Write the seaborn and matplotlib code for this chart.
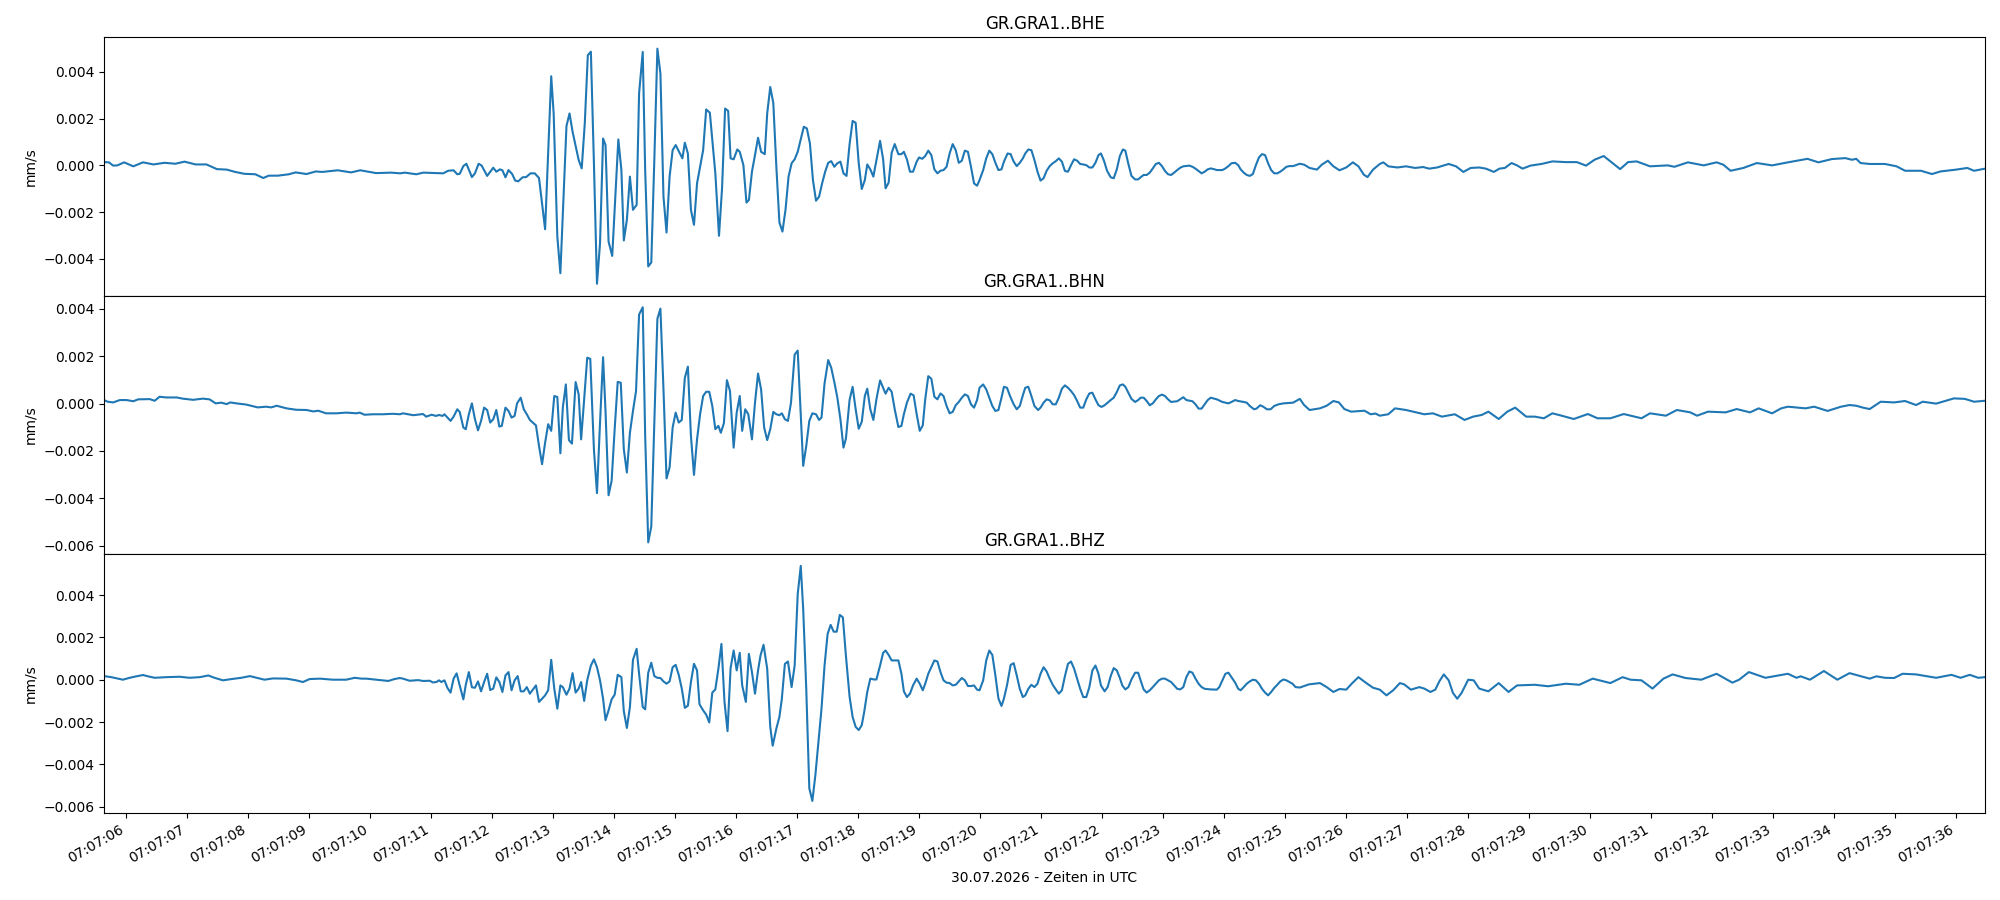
import numpy as np
import pandas as pd
import matplotlib
matplotlib.use("Agg")
import matplotlib.pyplot as plt
import matplotlib.dates as mdates
import seaborn as sns

# recording start (minute) and channel names
start = pd.Timestamp("2026-07-30 07:07:00")
channels = ["GR.GRA1..BHE", "GR.GRA1..BHN", "GR.GRA1..BHZ"]
date_label = "30.07.2026 - Zeiten in UTC"

# trace vertices: (seconds after 07:07:00, velocity in 1e-3 mm/s)
bhe = [
    (5.64, 0.14), (5.72, 0.13), (5.79, -0.01), (5.86, 0.00), (5.97, 0.13), (6.12, -0.04), (6.28, 0.13),
    (6.45, 0.04), (6.63, 0.11), (6.81, 0.07), (6.96, 0.16), (7.14, 0.04), (7.32, 0.04), (7.49, -0.16),
    (7.65, -0.18), (7.79, -0.28), (7.94, -0.36), (8.12, -0.38), (8.25, -0.54), (8.34, -0.44), (8.49, -0.44),
    (8.67, -0.38), (8.78, -0.30), (8.96, -0.37), (9.11, -0.26), (9.22, -0.28), (9.47, -0.21), (9.69, -0.30),
    (9.84, -0.21), (10.10, -0.33), (10.35, -0.31),
    (10.49, -0.34), (10.57, -0.31), (10.76, -0.38), (10.87, -0.31), (11.20, -0.34), (11.28, -0.23),
    (11.37, -0.21), (11.43, -0.38), (11.47, -0.36), (11.53, -0.03), (11.58, 0.07), (11.67, -0.50),
    (11.72, -0.34), (11.78, 0.07), (11.83, -0.01), (11.92, -0.45), (12.02, -0.10), (12.07, -0.27),
    (12.13, -0.17), (12.17, -0.21), (12.22, -0.51), (12.27, -0.20), (12.33, -0.37), (12.38, -0.65),
    (12.43, -0.68), (12.50, -0.51), (12.56, -0.50), (12.63, -0.34), (12.70, -0.34), (12.77, -0.54),
    (12.87, -2.73), (12.97, 3.81), (13.01, 2.22), (13.07, -3.04), (13.12, -4.61), (13.22, 1.68),
    (13.27, 2.22), (13.32, 1.44), (13.42, 0.23), (13.47, -0.13), (13.52, 1.79), (13.57, 4.71),
    (13.62, 4.86), (13.67, 0.09), (13.72, -5.06), (13.77, -3.33), (13.82, 1.15), (13.86, 0.87),
    (13.91, -3.26), (13.97, -3.87), (14.07, 1.11), (14.12, -0.20), (14.16, -3.21), (14.21, -2.33),
    (14.26, -0.48), (14.31, -1.90), (14.37, -1.69), (14.41, 3.07), (14.47, 4.85), (14.51, -0.20),
    (14.56, -4.32), (14.61, -4.15), (14.66, 0.23), (14.71, 4.99), (14.76, 3.92), (14.81, -1.34),
    (14.86, -2.87), (14.91, -0.48), (14.96, 0.65), (15.01, 0.87), (15.12, 0.30), (15.16, 0.97),
    (15.21, 0.51), (15.26, -1.90), (15.31, -2.54), (15.36, -0.77), (15.46, 0.65), (15.51, 2.39),
    (15.57, 2.25), (15.66, -0.34), (15.72, -3.01), (15.77, -0.98), (15.82, 2.43), (15.87, 2.33),
    (15.91, 0.30), (15.96, 0.26), (16.02, 0.68), (16.06, 0.58), (16.12, 0.01), (16.17, -1.59),
    (16.21, -1.48), (16.26, -0.27), (16.31, 0.44), (16.36, 1.18), (16.41, 0.58), (16.47, 0.48),
    (16.51, 2.22), (16.56, 3.35), (16.61, 2.67), (16.66, -0.06), (16.71, -2.44), (16.76, -2.83),
    (16.81, -1.90), (16.86, -0.48), (16.91, 0.09), (16.96, 0.26), (17.01, 0.58), (17.11, 1.65),
    (17.16, 1.58), (17.21, 0.94), (17.26, -0.63), (17.31, -1.51), (17.36, -1.34), (17.41, -0.77),
    (17.46, -0.27), (17.51, 0.11), (17.56, 0.18), (17.61, -0.06), (17.66, 0.09), (17.71, 0.16),
    (17.76, -0.34), (17.81, -0.45), (17.86, 0.90),
    (17.91, 1.90), (17.96, 1.82), (18.01, 0.09), (18.06, -1.01), (18.11, -0.63), (18.15, 0.04),
    (18.20, -0.17), (18.25, -0.48), (18.36, 1.05), (18.41, 0.26), (18.45, -0.98), (18.50, -0.74),
    (18.55, 0.54), (18.60, 0.91), (18.66, 0.48), (18.71, 0.48), (18.75, 0.58), (18.80, 0.26),
    (18.85, -0.27), (18.90, -0.27), (18.96, 0.16), (19.00, 0.34), (19.05, 0.28), (19.10, 0.40),
    (19.15, 0.63), (19.20, 0.44), (19.25, -0.17), (19.30, -0.34), (19.35, -0.23), (19.40, -0.20),
    (19.45, -0.06), (19.50, 0.51), (19.55, 0.91), (19.60, 0.65), (19.65, 0.11), (19.70, 0.20),
    (19.75, 0.63), (19.80, 0.58), (19.85, -0.06), (19.90, -0.77), (19.95, -0.87), (19.99, -0.63),
    (20.05, -0.20), (20.10, 0.30), (20.15, 0.63), (20.20, 0.48), (20.25, 0.11), (20.30, -0.20),
    (20.35, -0.17), (20.39, 0.16), (20.45, 0.51), (20.50, 0.48), (20.55, 0.16), (20.60, -0.03),
    (20.65, 0.11), (20.70, 0.30), (20.74, 0.51), (20.79, 0.68), (20.84, 0.65), (20.89, 0.23),
    (20.94, -0.27), (20.99, -0.65), (21.04, -0.55), (21.09, -0.23), (21.14, -0.03), (21.19, 0.09),
    (21.24, 0.18), (21.29, 0.30), (21.34, 0.16), (21.39, -0.24), (21.44, -0.27), (21.49, 0.01),
    (21.54, 0.26), (21.59, 0.20), (21.64, 0.06), (21.69, 0.04), (21.74, 0.01), (21.79, -0.09),
    (21.84, -0.09), (21.89, 0.11), (21.94, 0.44), (21.98, 0.51), (22.03, 0.20), (22.08, -0.23),
    (22.14, -0.51), (22.19, -0.55), (22.24, -0.17), (22.29, 0.40), (22.34, 0.68), (22.38, 0.63),
    (22.43, 0.06), (22.48, -0.45), (22.54, -0.60), (22.59, -0.60), (22.63, -0.51), (22.68, -0.41),
    (22.73, -0.41), (22.78, -0.31), (22.83, -0.13), (22.88, 0.06), (22.93, 0.11), (22.98, -0.03),
    (23.03, -0.24), (23.08, -0.38), (23.13, -0.41), (23.18, -0.31), (23.23, -0.20), (23.28, -0.10),
    (23.33, -0.04), (23.43, -0.01), (23.48, -0.06), (23.53, -0.14), (23.58, -0.24), (23.63, -0.34),
    (23.68, -0.27), (23.73, -0.17), (23.78, -0.13), (23.83, -0.16), (23.88, -0.20), (23.97, -0.20),
    (24.02, -0.13), (24.07, -0.03), (24.12, 0.09), (24.18, 0.11), (24.23, 0.01), (24.27, -0.17),
    (24.32, -0.31), (24.37, -0.41), (24.42, -0.45), (24.47, -0.37), (24.52, 0.01), (24.57, 0.34),
    (24.62, 0.48), (24.67, 0.44), (24.72, 0.09), (24.77, -0.20), (24.82, -0.34), (24.87, -0.34),
    (24.92, -0.27), (24.97, -0.17), (25.02, -0.06), (25.07, -0.03), (25.13, -0.03),
    (25.24, 0.07), (25.31, 0.03), (25.40, -0.11), (25.52, -0.18), (25.60, 0.03), (25.70, 0.20),
    (25.79, -0.04), (25.89, -0.21), (26.00, -0.09), (26.11, 0.13), (26.20, -0.04), (26.29, -0.40),
    (26.35, -0.50), (26.44, -0.18), (26.55, 0.06), (26.61, 0.13), (26.69, -0.04), (26.84, -0.09),
    (26.98, -0.04), (27.13, -0.11), (27.26, -0.07), (27.36, -0.14), (27.49, -0.09), (27.68, 0.06),
    (27.80, -0.04), (27.92, -0.28), (28.04, -0.11), (28.18, -0.09), (28.29, -0.14), (28.42, -0.28),
    (28.51, -0.14), (28.60, -0.11), (28.71, 0.10), (28.80, 0.00), (28.89, -0.14), (29.02, -0.01),
    (29.20, 0.06), (29.38, 0.17), (29.60, 0.14), (29.78, 0.14), (29.93, -0.01), (30.07, 0.24),
    (30.22, 0.40), (30.33, 0.17), (30.49, -0.16), (30.62, 0.14), (30.76, 0.17), (30.98, -0.04),
    (31.27, 0.00), (31.38, -0.06), (31.60, 0.13), (31.86, 0.00), (32.07, 0.13), (32.18, 0.03),
    (32.30, -0.23), (32.51, -0.11), (32.73, 0.10), (32.98, 0.00), (33.24, 0.13), (33.56, 0.28),
    (33.74, 0.13), (33.96, 0.27), (34.18, 0.31), (34.29, 0.24), (34.36, 0.28), (34.43, 0.10),
    (34.58, 0.06), (34.83, 0.06), (35.02, -0.04), (35.16, -0.23), (35.42, -0.23), (35.60, -0.37),
    (35.74, -0.26), (36.00, -0.18), (36.18, -0.11), (36.29, -0.23), (36.47, -0.14),
]

bhn = [
    (5.64, 0.15), (5.70, 0.08), (5.79, 0.05), (5.90, 0.15), (6.01, 0.15), (6.12, 0.10), (6.20, 0.18),
    (6.39, 0.19), (6.47, 0.12), (6.55, 0.29), (6.66, 0.26), (6.83, 0.26), (6.93, 0.21), (7.10, 0.16),
    (7.26, 0.21), (7.37, 0.18), (7.47, 0.01), (7.56, 0.04), (7.65, -0.02), (7.71, 0.05), (7.81, 0.01),
    (7.97, -0.04), (8.16, -0.16), (8.30, -0.13), (8.38, -0.16), (8.47, -0.09), (8.63, -0.20),
    (8.79, -0.26), (8.96, -0.27), (9.07, -0.33), (9.15, -0.30), (9.28, -0.41), (9.45, -0.41),
    (9.61, -0.38), (9.78, -0.41), (9.83, -0.38), (9.91, -0.47), (10.05, -0.45), (10.21, -0.45),
    (10.38, -0.43),
    (10.49, -0.45), (10.54, -0.41), (10.71, -0.49), (10.87, -0.44), (10.92, -0.55), (11.01, -0.47),
    (11.08, -0.52), (11.13, -0.48), (11.19, -0.52), (11.22, -0.45), (11.32, -0.73), (11.37, -0.55),
    (11.43, -0.24), (11.47, -0.35), (11.53, -1.01), (11.57, -1.08), (11.62, -0.45), (11.67, 0.01),
    (11.72, -0.66), (11.77, -1.13), (11.82, -0.73), (11.87, -0.17), (11.92, -0.27), (11.97, -0.80),
    (12.02, -0.66), (12.07, -0.27), (12.12, -0.97), (12.16, -0.94), (12.22, -0.17), (12.27, -0.31),
    (12.32, -0.59), (12.37, -0.52), (12.41, 0.01), (12.47, 0.25), (12.52, -0.24), (12.57, -0.45),
    (12.62, -0.69), (12.72, -0.92), (12.77, -1.79), (12.82, -2.56), (12.87, -1.65), (12.92, -0.87),
    (12.97, -1.15), (13.02, 0.32), (13.07, 0.28), (13.12, -2.10), (13.16, -0.17), (13.21, 0.81),
    (13.26, -1.54), (13.31, -1.69), (13.37, 0.91), (13.42, 0.39), (13.46, -1.51), (13.51, 0.18),
    (13.56, 1.94), (13.61, 1.89), (13.67, -1.93), (13.72, -3.78), (13.77, -0.80), (13.82, 1.96),
    (13.86, -0.31), (13.91, -3.87), (13.96, -3.26), (14.01, -1.08), (14.06, 0.92), (14.11, 0.88),
    (14.16, -1.93), (14.21, -2.91), (14.26, -1.23), (14.31, -0.31), (14.36, 0.53), (14.41, 3.76),
    (14.47, 4.07), (14.51, -1.37), (14.56, -5.86), (14.61, -5.19), (14.66, -0.80), (14.71, 3.58),
    (14.76, 4.01), (14.81, 0.60), (14.86, -3.16), (14.91, -2.70), (14.96, -1.01), (15.01, -0.38),
    (15.06, -0.80), (15.11, -0.69), (15.16, 1.09), (15.21, 1.56), (15.26, -1.37), (15.31, -3.01),
    (15.36, -1.51), (15.41, -0.45), (15.46, 0.32), (15.51, 0.50), (15.56, 0.50), (15.61, -0.10),
    (15.66, -1.08), (15.71, -0.94), (15.75, -1.23), (15.80, -0.83), (15.85, 0.99), (15.90, 0.53),
    (15.96, -1.86), (16.01, -0.38), (16.06, 0.32), (16.10, -1.15), (16.15, -0.24), (16.20, -0.45),
    (16.26, -1.51), (16.31, 0.04), (16.36, 1.27), (16.41, 0.60), (16.46, -1.01), (16.51, -1.54),
    (16.56, -1.08), (16.61, -0.35), (16.66, -0.45), (16.71, -0.49), (16.75, -0.41), (16.80, -0.66),
    (16.85, -0.73), (16.90, 0.04), (16.96, 2.07), (17.01, 2.24), (17.06, -0.52), (17.10, -2.63),
    (17.15, -1.79), (17.20, -0.73), (17.25, -0.41), (17.31, -0.45), (17.36, -0.69), (17.40, -0.59),
    (17.45, 0.85), (17.51, 1.84), (17.56, 1.51), (17.61, 0.91), (17.66, 0.25), (17.71, -0.66),
    (17.76, -1.86), (17.80, -1.48), (17.86, 0.15),
    (17.91, 0.71), (17.96, -0.24), (18.01, -1.06), (18.06, -0.77), (18.11, 0.32), (18.15, 0.63),
    (18.20, -0.24), (18.25, -0.69), (18.30, 0.18), (18.36, 0.98), (18.41, 0.67), (18.45, 0.42),
    (18.50, 0.67), (18.55, 0.50), (18.60, -0.24), (18.66, -0.99), (18.71, -0.94), (18.75, -0.45),
    (18.80, 0.04), (18.86, 0.42), (18.91, 0.35), (18.96, -0.45), (19.01, -1.15), (19.06, -0.92),
    (19.10, 0.18), (19.15, 1.16), (19.20, 1.05), (19.25, 0.29), (19.30, 0.18), (19.35, 0.43),
    (19.40, 0.32), (19.45, -0.10), (19.50, -0.41), (19.55, -0.35), (19.60, -0.07), (19.65, 0.07),
    (19.70, 0.25), (19.75, 0.39), (19.80, 0.32), (19.85, -0.03), (19.90, -0.17), (19.95, 0.15),
    (19.99, 0.67), (20.05, 0.81), (20.10, 0.60), (20.15, 0.25), (20.20, -0.10), (20.25, -0.31),
    (20.30, -0.27), (20.35, 0.25), (20.39, 0.71), (20.44, 0.67), (20.49, 0.32), (20.55, -0.03),
    (20.60, -0.24), (20.65, -0.10), (20.70, 0.35), (20.74, 0.67), (20.79, 0.71), (20.84, 0.32),
    (20.89, -0.10), (20.95, -0.27), (20.99, -0.17), (21.04, 0.04), (21.09, 0.18), (21.14, 0.14),
    (21.19, -0.03), (21.24, -0.03), (21.29, 0.25), (21.34, 0.63), (21.39, 0.77), (21.44, 0.67),
    (21.49, 0.53), (21.54, 0.36), (21.59, 0.11), (21.64, -0.17), (21.69, -0.17), (21.74, 0.18),
    (21.79, 0.43), (21.84, 0.46), (21.89, 0.18), (21.94, -0.07), (21.99, -0.14), (22.04, -0.07),
    (22.09, 0.04), (22.14, 0.15), (22.19, 0.25), (22.24, 0.49), (22.29, 0.77), (22.34, 0.81),
    (22.38, 0.71), (22.43, 0.46), (22.48, 0.20), (22.54, 0.07), (22.59, 0.15), (22.63, 0.25),
    (22.68, 0.25), (22.73, 0.11), (22.78, -0.07), (22.83, 0.01), (22.88, 0.18), (22.93, 0.32),
    (22.98, 0.38), (23.03, 0.32), (23.08, 0.18), (23.13, 0.07), (23.23, 0.10), (23.33, 0.27),
    (23.38, 0.15), (23.48, 0.10), (23.53, -0.03), (23.58, -0.21), (23.63, -0.21), (23.68, -0.03),
    (23.73, 0.15), (23.78, 0.25), (23.88, 0.18), (23.97, 0.07), (24.07, 0.01), (24.12, 0.07),
    (24.18, 0.15), (24.23, 0.11), (24.32, 0.07), (24.37, 0.04), (24.42, -0.10), (24.49, -0.24),
    (24.53, -0.21), (24.59, -0.07), (24.64, -0.13), (24.70, -0.24), (24.76, -0.24), (24.82, -0.10),
    (24.89, -0.03), (24.97, 0.01), (25.13, 0.04),
    (25.24, 0.20), (25.31, -0.06), (25.40, -0.27), (25.57, -0.20), (25.68, -0.09), (25.79, 0.11),
    (25.88, 0.05), (25.97, -0.23), (26.08, -0.34), (26.30, -0.30), (26.40, -0.45), (26.48, -0.42),
    (26.55, -0.51), (26.69, -0.45), (26.80, -0.20), (26.98, -0.27), (27.28, -0.45), (27.42, -0.41),
    (27.57, -0.55), (27.78, -0.45), (27.94, -0.69), (28.08, -0.55), (28.22, -0.48), (28.33, -0.34),
    (28.50, -0.65), (28.64, -0.34), (28.77, -0.17), (28.95, -0.55), (29.09, -0.55), (29.24, -0.62),
    (29.38, -0.41), (29.53, -0.51), (29.73, -0.65), (29.96, -0.44), (30.12, -0.62), (30.33, -0.62),
    (30.55, -0.44), (30.84, -0.62), (30.98, -0.41), (31.24, -0.51), (31.42, -0.27), (31.64, -0.37),
    (31.75, -0.51), (31.93, -0.34), (32.22, -0.37), (32.40, -0.23), (32.62, -0.37), (32.76, -0.20),
    (32.98, -0.41), (33.13, -0.20), (33.24, -0.13), (33.53, -0.20), (33.67, -0.13), (33.89, -0.31),
    (34.11, -0.13), (34.25, -0.06), (34.36, -0.09), (34.47, -0.17), (34.58, -0.23), (34.76, 0.08),
    (34.98, 0.05), (35.16, 0.11), (35.34, -0.06), (35.45, 0.08), (35.67, 0.00), (35.96, 0.22),
    (36.14, 0.20), (36.29, 0.08), (36.47, 0.12),
]

bhz = [
    (5.64, 0.17), (5.76, 0.12), (5.87, 0.05), (5.95, 0.00), (6.06, 0.09), (6.17, 0.16), (6.28, 0.22),
    (6.36, 0.16), (6.47, 0.09), (6.66, 0.12), (6.88, 0.14), (7.04, 0.09), (7.21, 0.12), (7.35, 0.20),
    (7.45, 0.09), (7.59, -0.03), (7.73, 0.03), (7.89, 0.09), (8.03, 0.17), (8.14, 0.09), (8.27, 0.00),
    (8.41, 0.06), (8.63, 0.05), (8.79, -0.03), (8.90, -0.11), (9.01, 0.03), (9.18, 0.05), (9.39, 0.00),
    (9.61, 0.00), (9.75, 0.09), (9.86, 0.05), (9.94, 0.05), (10.10, 0.00), (10.30, -0.06), (10.40, 0.03),
    (10.49, 0.08), (10.54, 0.05), (10.65, -0.05), (10.79, -0.02), (10.87, -0.06), (10.98, -0.05),
    (11.03, -0.13), (11.09, -0.11), (11.13, -0.03), (11.17, -0.11), (11.22, -0.03), (11.27, -0.39),
    (11.32, -0.61), (11.37, 0.05), (11.42, 0.30), (11.47, -0.27), (11.53, -0.93), (11.57, -0.24),
    (11.62, 0.36), (11.67, -0.36), (11.72, -0.38), (11.77, -0.08), (11.82, -0.55), (11.87, -0.11),
    (11.92, 0.28), (11.97, -0.49), (12.02, -0.42), (12.07, 0.11), (12.12, -0.11), (12.17, -0.58),
    (12.22, 0.20), (12.27, 0.36), (12.32, -0.50), (12.37, -0.03), (12.42, 0.17), (12.47, -0.55),
    (12.52, -0.55), (12.57, -0.35), (12.62, -0.66), (12.72, -0.27), (12.77, -1.05), (12.82, -0.90),
    (12.87, -0.74), (12.92, -0.50), (12.97, 0.94), (13.02, -0.42), (13.07, -1.37), (13.12, -0.27),
    (13.16, -0.35), (13.22, -0.71), (13.27, -0.42), (13.32, 0.31), (13.37, -0.61), (13.42, -0.42),
    (13.46, -0.11), (13.51, -1.00), (13.56, -0.03), (13.62, 0.67), (13.67, 0.96), (13.72, 0.59),
    (13.77, -0.03), (13.82, -0.90), (13.86, -1.91), (13.91, -1.45), (13.96, -0.93), (14.01, -0.71),
    (14.06, 0.23), (14.12, 0.12), (14.16, -1.49), (14.21, -2.28), (14.26, -1.29), (14.31, 0.94),
    (14.37, 1.46), (14.41, 0.28), (14.47, -1.29), (14.51, -1.40), (14.56, 0.33), (14.61, 0.80),
    (14.66, 0.17), (14.71, 0.09), (14.76, 0.08), (14.81, -0.08), (14.86, -0.19), (14.91, -0.08),
    (14.96, 0.59), (15.01, 0.70), (15.06, 0.23), (15.11, -0.42), (15.16, -1.33), (15.21, -1.23),
    (15.26, -0.11), (15.31, 0.75), (15.36, 0.44), (15.40, -1.16), (15.46, -1.45), (15.51, -1.65),
    (15.56, -2.02), (15.61, -0.61), (15.66, -0.46), (15.71, 0.52), (15.76, 1.69), (15.81, -1.05),
    (15.86, -2.43), (15.91, 0.55), (15.96, 1.38), (16.01, 0.44), (16.06, 1.27), (16.10, -0.27),
    (16.16, -1.05), (16.21, 1.22), (16.26, 0.36), (16.31, -0.66), (16.36, 0.44), (16.40, 1.14),
    (16.45, 1.65), (16.51, 0.52), (16.56, -2.23), (16.60, -3.12), (16.66, -2.31), (16.71, -1.76),
    (16.75, -0.90), (16.80, 0.75), (16.85, 0.86), (16.91, -0.35), (16.96, 0.67), (17.01, 4.04),
    (17.06, 5.38), (17.10, 3.34), (17.15, -0.42), (17.20, -5.13), (17.25, -5.73), (17.30, -4.50),
    (17.35, -2.93), (17.40, -1.37), (17.45, 0.67), (17.50, 2.16), (17.55, 2.59), (17.60, 2.27),
    (17.65, 2.27), (17.70, 3.06), (17.75, 2.95), (17.80, 1.14), (17.86, -0.80),
    (17.91, -1.76), (17.96, -2.23), (18.01, -2.38), (18.06, -2.15), (18.10, -1.52), (18.15, -0.58),
    (18.20, 0.05), (18.26, 0.01), (18.30, 0.01), (18.36, 0.67), (18.41, 1.27), (18.45, 1.38),
    (18.50, 1.17), (18.55, 0.91), (18.66, 0.91), (18.71, 0.28), (18.75, -0.55), (18.80, -0.82),
    (18.85, -0.66), (18.90, -0.27), (18.96, 0.05), (19.01, -0.19), (19.06, -0.50), (19.10, -0.19),
    (19.15, 0.28), (19.20, 0.59), (19.25, 0.91), (19.30, 0.86), (19.35, 0.36), (19.40, -0.03),
    (19.45, -0.14), (19.50, -0.16), (19.55, -0.27), (19.60, -0.24), (19.65, -0.08), (19.70, 0.08),
    (19.75, -0.03), (19.80, -0.30), (19.85, -0.30), (19.90, -0.27), (19.95, -0.47), (19.99, -0.50),
    (20.05, -0.03), (20.10, 0.91), (20.15, 1.38), (20.20, 1.17), (20.25, 0.20), (20.30, -0.89),
    (20.35, -1.24), (20.39, -0.89), (20.44, -0.27), (20.50, 0.70), (20.55, 0.78), (20.60, 0.20),
    (20.65, -0.43), (20.70, -0.82), (20.74, -0.74), (20.79, -0.43), (20.84, -0.24), (20.89, -0.35),
    (20.94, -0.19), (20.99, 0.28), (21.04, 0.59), (21.09, 0.39), (21.14, 0.05), (21.19, -0.24),
    (21.24, -0.46), (21.29, -0.66), (21.34, -0.50), (21.39, 0.17), (21.44, 0.75), (21.49, 0.86),
    (21.54, 0.52), (21.59, 0.05), (21.64, -0.43), (21.69, -0.82), (21.74, -0.82), (21.79, -0.35),
    (21.84, 0.44), (21.89, 0.67), (21.94, 0.28), (21.98, -0.27), (22.04, -0.55), (22.09, -0.35),
    (22.14, 0.17), (22.19, 0.55), (22.24, 0.44), (22.29, 0.08), (22.33, -0.27), (22.38, -0.46),
    (22.43, -0.35), (22.48, 0.01), (22.54, 0.33), (22.59, 0.33), (22.63, -0.03), (22.68, -0.46),
    (22.73, -0.61), (22.78, -0.50), (22.83, -0.35), (22.88, -0.19), (22.93, -0.03), (22.98, 0.05),
    (23.03, 0.05), (23.08, -0.03), (23.13, -0.11), (23.18, -0.27), (23.23, -0.43), (23.28, -0.46),
    (23.33, -0.35), (23.38, 0.12), (23.43, 0.39), (23.48, 0.33), (23.53, 0.05), (23.58, -0.19),
    (23.63, -0.35), (23.68, -0.43), (23.78, -0.46), (23.88, -0.47), (23.92, -0.35), (23.97, -0.03),
    (24.02, 0.28), (24.07, 0.33), (24.12, 0.12), (24.18, -0.14), (24.23, -0.43), (24.27, -0.50),
    (24.32, -0.35), (24.37, -0.19), (24.42, -0.08), (24.47, 0.00), (24.52, -0.03), (24.57, -0.19),
    (24.62, -0.43), (24.67, -0.61), (24.72, -0.74), (24.77, -0.58), (24.82, -0.39), (24.87, -0.24),
    (24.92, -0.08), (24.97, 0.01), (25.02, -0.03), (25.07, -0.11), (25.12, -0.19), (25.17, -0.35),
    (25.24, -0.37), (25.39, -0.22), (25.57, -0.16), (25.68, -0.35), (25.79, -0.58), (25.89, -0.44),
    (26.00, -0.47), (26.10, -0.16), (26.20, 0.12), (26.33, -0.16), (26.44, -0.38), (26.55, -0.47),
    (26.66, -0.74), (26.77, -0.50), (26.88, -0.16), (26.95, -0.22), (27.06, -0.47), (27.20, -0.35),
    (27.28, -0.42), (27.38, -0.58), (27.46, -0.47), (27.53, -0.06), (27.60, 0.25), (27.68, -0.03),
    (27.75, -0.63), (27.82, -0.90), (27.89, -0.63), (28.00, 0.00), (28.09, -0.03), (28.18, -0.42),
    (28.33, -0.55), (28.50, -0.16), (28.66, -0.58), (28.80, -0.27), (29.09, -0.24), (29.31, -0.31),
    (29.60, -0.19), (29.82, -0.24), (30.04, 0.05), (30.33, -0.16), (30.53, 0.12), (30.66, 0.00),
    (30.84, -0.03), (31.02, -0.42), (31.20, 0.05), (31.35, 0.25), (31.56, 0.08), (31.82, 0.00),
    (32.07, 0.28), (32.33, -0.14), (32.44, 0.00), (32.60, 0.36), (32.87, 0.09), (33.24, 0.28),
    (33.38, 0.09), (33.45, 0.16), (33.60, 0.00), (33.83, 0.41), (34.05, 0.00), (34.25, 0.31),
    (34.58, 0.05), (34.69, 0.16), (34.83, 0.09), (34.98, 0.08), (35.12, 0.28), (35.34, 0.25),
    (35.67, 0.09), (35.92, 0.23), (36.07, 0.09), (36.22, 0.23), (36.36, 0.09), (36.47, 0.12),
]

traces = [bhe, bhn, bhz]

fig, axes = plt.subplots(3, 1, figsize=(20, 9), dpi=100, sharex=True)

for ax, name, trace in zip(axes, channels, traces):
    sec, amp = zip(*trace)
    df = pd.DataFrame({
        "time": start + pd.to_timedelta(np.array(sec), unit="s"),
        "mm/s": np.array(amp) / 1000.0,  # 1e-3 mm/s -> mm/s
    })
    sns.lineplot(data=df, x="time", y="mm/s", ax=ax, color="#1f77b4",
                 linewidth=1.5, estimator=None, sort=False)
    ax.set_title(name)
    ax.set_ylabel("mm/s")
    ax.set_xlabel("")

axes[0].set_xlim(df["time"].iloc[0], df["time"].iloc[-1])
axes[-1].xaxis.set_major_locator(mdates.SecondLocator())
axes[-1].xaxis.set_major_formatter(mdates.DateFormatter("%H:%M:%S"))
fig.autofmt_xdate()
axes[-1].set_xlabel(date_label)

fig.subplots_adjust(left=0.052, right=0.9925, top=0.959, bottom=0.097, hspace=0)
fig.savefig("out.png")
